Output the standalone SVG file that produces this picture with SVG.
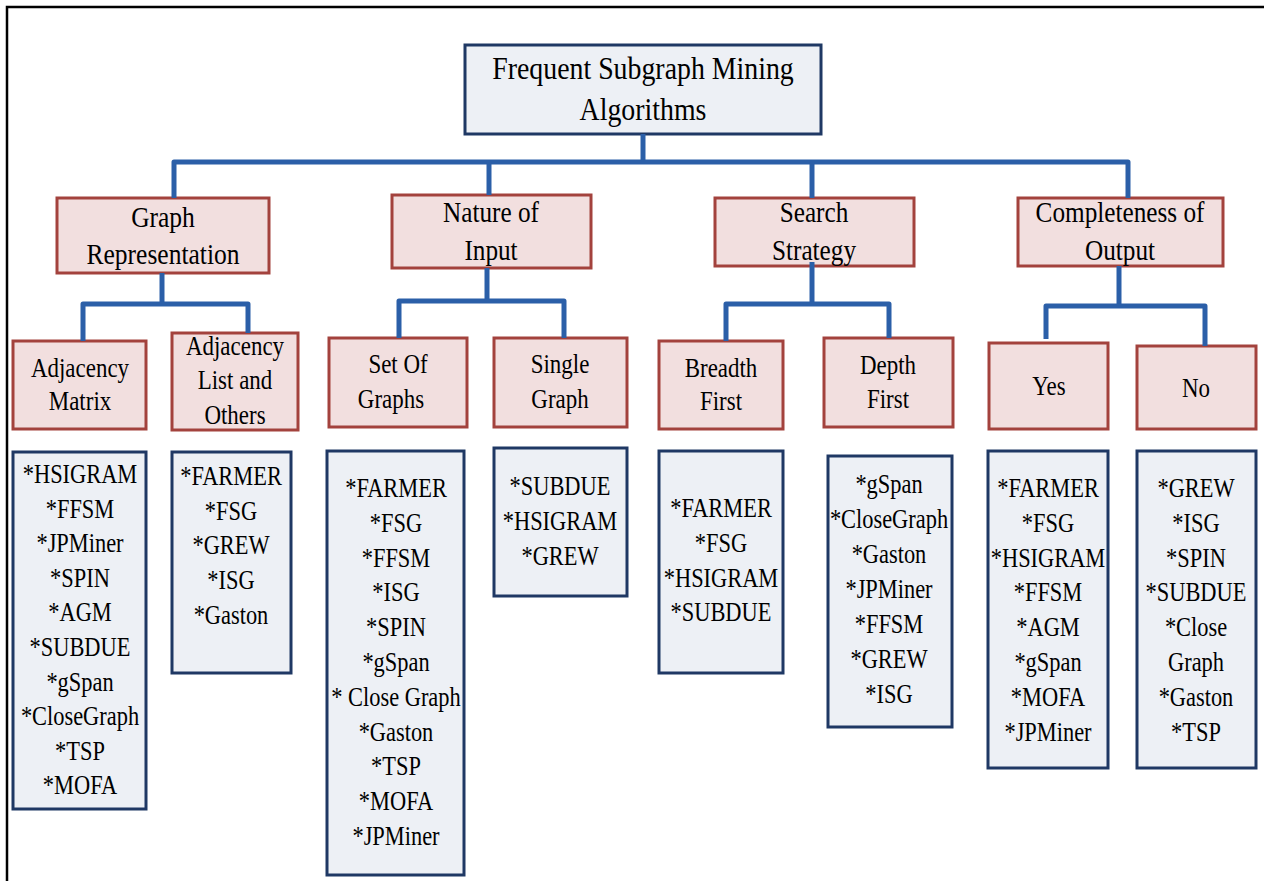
<svg xmlns="http://www.w3.org/2000/svg" width="1264" height="881" viewBox="0 0 1264 881">
<style>
text{font-family:"Liberation Serif","Times New Roman",serif;fill:#000;text-anchor:middle}
.root{fill:#edf0f5;stroke:#1f3864;stroke-width:3}
.cat{fill:#f2dfdf;stroke:#a3423d;stroke-width:3}
.lst{fill:#edf0f5;stroke:#1f3864;stroke-width:3}
.t1{font-size:32px}
.t2{font-size:29px}
.t3{font-size:27px}
.t4{font-size:27px}
.conn{fill:none;stroke:#2b5fa8;stroke-width:5;stroke-linejoin:round}
</style>
<g id="frame"><path d="M7,881 V7 H1264" fill="none" stroke="#000" stroke-width="2.5"/></g>

<g id="root"><rect class="root" x="465" y="45" width="356" height="89"/>
<g transform="translate(643 0) scale(0.87 1)" class="t1"><text x="0" y="79">Frequent Subgraph Mining</text><text x="0" y="120">Algorithms</text></g></g>

<g id="graph-representation"><rect class="cat" x="57" y="198" width="212" height="75"/>
<g transform="translate(163 0) scale(0.88 1)" class="t2"><text x="0" y="227">Graph</text><text x="0" y="264">Representation</text></g></g>
<g id="nature-of-input"><rect class="cat" x="392" y="195" width="199" height="73"/>
<g transform="translate(491 0) scale(0.87 1)" class="t2"><text x="0" y="222">Nature of</text><text x="0" y="260">Input</text></g></g>
<g id="search-strategy"><rect class="cat" x="715" y="198" width="199" height="68"/>
<g transform="translate(814 0) scale(0.87 1)" class="t2"><text x="0" y="222">Search</text><text x="0" y="260">Strategy</text></g></g>
<g id="completeness-of-output"><rect class="cat" x="1018" y="198" width="205" height="68"/>
<g transform="translate(1120 0) scale(0.87 1)" class="t2"><text x="0" y="222">Completeness of</text><text x="0" y="260">Output</text></g></g>

<g id="adjacency-matrix"><rect class="cat" x="13" y="341" width="133" height="88"/>
<g transform="translate(80 0) scale(0.85 1)" class="t3"><text x="0" y="377">Adjacency</text><text x="0" y="410">Matrix</text></g></g>
<g id="adjacency-list"><rect class="cat" x="172" y="333" width="126" height="97"/>
<g transform="translate(235 0) scale(0.85 1)" class="t3"><text x="0" y="355">Adjacency</text><text x="0" y="389">List and</text><text x="0" y="424">Others</text></g></g>
<g id="set-of-graphs"><rect class="cat" x="329" y="338" width="138" height="89"/>
<g class="t3"><text transform="translate(398 0) scale(0.85 1)" x="0" y="373">Set Of</text><text transform="translate(391 0) scale(0.85 1)" x="0" y="408">Graphs</text></g></g>
<g id="single-graph"><rect class="cat" x="494" y="338" width="133" height="89"/>
<g transform="translate(560 0) scale(0.85 1)" class="t3"><text x="0" y="373">Single</text><text x="0" y="408">Graph</text></g></g>
<g id="breadth-first"><rect class="cat" x="659" y="341" width="124" height="88"/>
<g transform="translate(721 0) scale(0.85 1)" class="t3"><text x="0" y="377">Breadth</text><text x="0" y="410">First</text></g></g>
<g id="depth-first"><rect class="cat" x="824" y="338" width="129" height="89"/>
<g transform="translate(888 0) scale(0.85 1)" class="t3"><text x="0" y="374">Depth</text><text x="0" y="408">First</text></g></g>
<g id="yes"><rect class="cat" x="989" y="343" width="119" height="86"/>
<g transform="translate(1049 0) scale(0.85 1)" class="t3"><text x="0" y="395">Yes</text></g></g>
<g id="no"><rect class="cat" x="1137" y="346" width="119" height="83"/>
<g transform="translate(1196 0) scale(0.85 1)" class="t3"><text x="0" y="397">No</text></g></g>

<g id="list-adjacency-matrix"><rect class="lst" x="13" y="452" width="133" height="357"/>
<g transform="translate(80 0) scale(0.83 1)" class="t4">
<text x="0" y="483">*HSIGRAM</text><text x="0" y="517.6">*FFSM</text><text x="0" y="552.2">*JPMiner</text><text x="0" y="586.8">*SPIN</text><text x="0" y="621.4">*AGM</text><text x="0" y="656">*SUBDUE</text><text x="0" y="690.6">*gSpan</text><text x="0" y="725.2">*CloseGraph</text><text x="0" y="759.8">*TSP</text><text x="0" y="794.4">*MOFA</text></g></g>
<g id="list-adjacency-list"><rect class="lst" x="172" y="452" width="119" height="221"/>
<g transform="translate(231 0) scale(0.83 1)" class="t4">
<text x="0" y="485">*FARMER</text><text x="0" y="519.7">*FSG</text><text x="0" y="554.4">*GREW</text><text x="0" y="589.1">*ISG</text><text x="0" y="623.8">*Gaston</text></g></g>
<g id="list-set-of-graphs"><rect class="lst" x="327" y="451" width="137" height="424"/>
<g transform="translate(396 0) scale(0.83 1)" class="t4">
<text x="0" y="497">*FARMER</text><text x="0" y="531.8">*FSG</text><text x="0" y="566.6">*FFSM</text><text x="0" y="601.4">*ISG</text><text x="0" y="636.2">*SPIN</text><text x="0" y="671">*gSpan</text><text x="0" y="705.8">* Close Graph</text><text x="0" y="740.6">*Gaston</text><text x="0" y="775.4">*TSP</text><text x="0" y="810.2">*MOFA</text><text x="0" y="845">*JPMiner</text></g></g>
<g id="list-single-graph"><rect class="lst" x="494" y="448" width="133" height="148"/>
<g transform="translate(560 0) scale(0.83 1)" class="t4">
<text x="0" y="495">*SUBDUE</text><text x="0" y="530">*HSIGRAM</text><text x="0" y="565">*GREW</text></g></g>
<g id="list-breadth-first"><rect class="lst" x="659" y="451" width="124" height="222"/>
<g transform="translate(721 0) scale(0.83 1)" class="t4">
<text x="0" y="517">*FARMER</text><text x="0" y="552">*FSG</text><text x="0" y="587">*HSIGRAM</text><text x="0" y="621">*SUBDUE</text></g></g>
<g id="list-depth-first"><rect class="lst" x="828" y="456" width="124" height="271"/>
<g transform="translate(889 0) scale(0.83 1)" class="t4">
<text x="0" y="493">*gSpan</text><text x="0" y="528">*CloseGraph</text><text x="0" y="563">*Gaston</text><text x="0" y="598">*JPMiner</text><text x="0" y="633">*FFSM</text><text x="0" y="668">*GREW</text><text x="0" y="703">*ISG</text></g></g>
<g id="list-yes"><rect class="lst" x="988" y="451" width="120" height="317"/>
<g transform="translate(1048 0) scale(0.83 1)" class="t4">
<text x="0" y="497">*FARMER</text><text x="0" y="531.8">*FSG</text><text x="0" y="566.6">*HSIGRAM</text><text x="0" y="601.4">*FFSM</text><text x="0" y="636.2">*AGM</text><text x="0" y="671">*gSpan</text><text x="0" y="705.8">*MOFA</text><text x="0" y="740.6">*JPMiner</text></g></g>
<g id="list-no"><rect class="lst" x="1137" y="451" width="119" height="317"/>
<g transform="translate(1196 0) scale(0.83 1)" class="t4">
<text x="0" y="497">*GREW</text><text x="0" y="531.8">*ISG</text><text x="0" y="566.6">*SPIN</text><text x="0" y="601.4">*SUBDUE</text><text x="0" y="636.2">*Close</text><text x="0" y="671">Graph</text><text x="0" y="705.8">*Gaston</text><text x="0" y="740.6">*TSP</text></g></g>

<g id="connectors" class="conn">
<path d="M643,134 V162"/>
<path d="M174,198 V162 H1128 V198"/>
<path d="M489,162 V195"/>
<path d="M812,162 V198"/>
<path d="M162,273 V304"/>
<path d="M83,341 V304 H248 V333"/>
<path d="M487,268 V301"/>
<path d="M399,338 V301 H564 V338"/>
<path d="M812,262 V304"/>
<path d="M726,341 V304 H889 V338"/>
<path d="M1119,266 V306"/>
<path d="M1046,339 V306 H1205 V346"/>
</g>
</svg>
